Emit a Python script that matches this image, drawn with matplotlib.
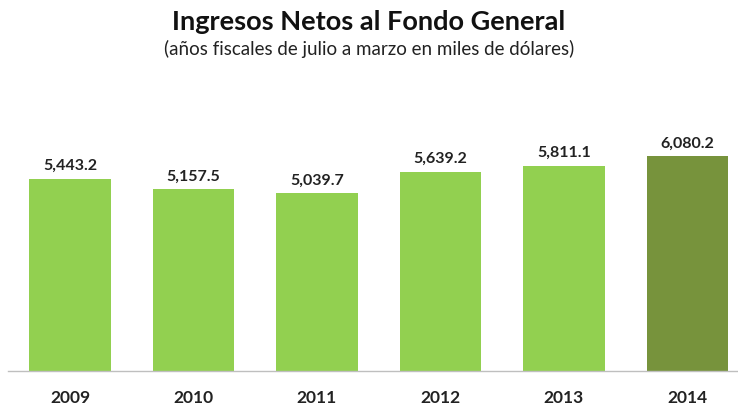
import matplotlib.pyplot as plt

years = ['2009', '2010', '2011', '2012', '2013', '2014']
values = [5443.2, 5157.5, 5039.7, 5639.2, 5811.1, 6080.2]
colors = ['#92D050'] * 5 + ['#77933C']

plt.rcParams['font.family'] = ['Lato', 'DejaVu Sans']

fig = plt.figure(figsize=(7.38, 4.09), dpi=100)
# axes from x=8px to 738px, baseline at y=371px, top at y=80px
ax = fig.add_axes([8 / 738, (409 - 371) / 409, 730 / 738, 291 / 409])

x = list(range(len(years)))
bars = ax.bar(x, values, width=0.66, color=colors, zorder=2)
ax.set_xlim(-0.502, 5.409)
ax.set_ylim(0, 291 / 0.03536)

for xi, v in zip(x, values):
    ax.text(xi, v + 150, f'{v:,.1f}', ha='center', va='bottom',
            fontsize=11.5, fontweight='bold', color='#222222')

ax.set_xticks(x)
ax.set_xticklabels(years, fontsize=12.5, fontweight='bold', color='#222222')
ax.tick_params(axis='x', length=0, pad=14)
ax.set_yticks([])
for s in ['top', 'right', 'left']:
    ax.spines[s].set_visible(False)
ax.spines['bottom'].set_color('#BFBFBF')
ax.spines['bottom'].set_linewidth(1)

fig.text(0.5, 1 - 22 / 409, 'Ingresos Netos al Fondo General', ha='center', va='center',
         fontsize=19.5, fontweight='bold', color='#111111')
fig.text(0.5, 1 - 49 / 409, '(años fiscales de julio a marzo en miles de dólares)', ha='center',
         va='center', fontsize=13.5, color='#222222')

fig.savefig('out.png', dpi=100)
